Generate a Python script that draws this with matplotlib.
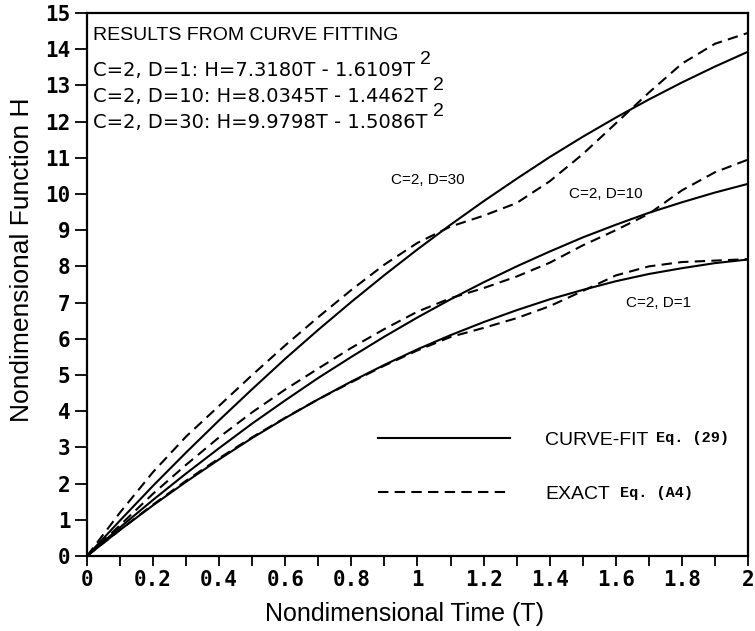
import matplotlib
matplotlib.use("Agg")
import matplotlib.pyplot as plt
from matplotlib.ticker import MultipleLocator, FuncFormatter

# Nondimensional time
t = [0.0, 0.1, 0.2, 0.3, 0.4, 0.5, 0.6, 0.7, 0.8, 0.9, 1.0,
     1.1, 1.2, 1.3, 1.4, 1.5, 1.6, 1.7, 1.8, 1.9, 2.0]

# Curve-fit values (solid)
fit_d1 = [0.0, 0.72, 1.40, 2.05, 2.67, 3.26, 3.81, 4.33, 4.82, 5.28, 5.71,
          6.10, 6.46, 6.79, 7.09, 7.35, 7.59, 7.79, 7.95, 8.09, 8.19]
fit_d10 = [0.0, 0.79, 1.55, 2.28, 2.98, 3.66, 4.30, 4.92, 5.50, 6.06, 6.59,
           7.09, 7.56, 8.00, 8.41, 8.80, 9.15, 9.48, 9.77, 10.04, 10.28]
fit_d30 = [0.0, 0.98, 1.94, 2.86, 3.75, 4.61, 5.45, 6.25, 7.02, 7.76, 8.47,
           9.15, 9.80, 10.42, 11.02, 11.58, 12.11, 12.61, 13.08, 13.52, 13.93]

# Exact values (dashed)
exact_d1 = [0.0, 0.72, 1.42, 2.08, 2.70, 3.28, 3.82, 4.33, 4.80, 5.26, 5.68,
            6.05, 6.30, 6.57, 6.90, 7.32, 7.75, 8.00, 8.12, 8.16, 8.20]
exact_d10 = [0.0, 0.85, 1.72, 2.52, 3.28, 3.97, 4.60, 5.18, 5.75, 6.27, 6.75,
             7.12, 7.40, 7.72, 8.10, 8.58, 9.00, 9.45, 10.10, 10.60, 10.95]
exact_d30 = [0.0, 1.20, 2.32, 3.30, 4.15, 5.00, 5.82, 6.60, 7.35, 8.05, 8.65,
             9.10, 9.40, 9.75, 10.35, 11.10, 11.95, 12.80, 13.60, 14.15, 14.45]

fit_lines = [
    "C=2, D=1: H=7.3180T - 1.6109T",
    "C=2, D=10: H=8.0345T - 1.4462T",
    "C=2, D=30: H=9.9798T - 1.5086T",
]

fig = plt.figure(figsize=(7.55, 6.31), dpi=100)
ax = fig.add_axes([0.1152, 0.1189, 0.8755, 0.8605])

for ys in (fit_d1, fit_d10, fit_d30):
    ax.plot(t, ys, color="black", lw=1.5)
for ys in (exact_d1, exact_d10, exact_d30):
    ax.plot(t, ys, color="black", lw=1.5, dashes=(5, 3))

ax.set_xlim(0, 2)
ax.set_ylim(0, 15)
ax.xaxis.set_major_locator(MultipleLocator(0.2))
ax.xaxis.set_minor_locator(MultipleLocator(0.1))
ax.xaxis.set_major_formatter(FuncFormatter(lambda v, p: f"{v:g}"))
ax.yaxis.set_major_locator(MultipleLocator(1))
ax.tick_params(axis="x", which="both", direction="out", length=7, width=1.3, pad=3)
ax.tick_params(axis="y", which="both", direction="out", length=9, width=1.3, pad=3)
for lbl in ax.get_xticklabels() + ax.get_yticklabels():
    lbl.set_family("DejaVu Sans Mono")
    lbl.set_weight("bold")
    lbl.set_fontsize(15)
for sp in ax.spines.values():
    sp.set_linewidth(1.6)

ax.set_xlabel("Nondimensional Time (T)", fontsize=18, family="Liberation Sans")
ax.set_ylabel("Nondimensional Function H", fontsize=19, family="Liberation Sans")
ax.xaxis.set_label_coords(0.48, -0.085)
ax.yaxis.set_label_coords(-0.08, 0.545)

# Curve-fit results block
ax.text(0.009, 0.958, "RESULTS FROM CURVE FITTING", transform=ax.transAxes,
        fontsize=14, family="Liberation Sans", va="center")
for i, s in enumerate(fit_lines):
    tx = ax.text(0.009, 0.895 - 0.048 * i, s, transform=ax.transAxes,
                 fontsize=14, family="DejaVu Sans", va="center")
    ax.annotate("2", xy=(1.0, 0.6), xycoords=tx, xytext=(4, 0),
                textcoords="offset points", fontsize=14,
                family="Liberation Sans", va="bottom")

# Curve labels
ax.text(1.03, 10.4, "C=2, D=30", fontsize=11, family="Liberation Sans", ha="center", va="center")
ax.text(1.57, 10.0, "C=2, D=10", fontsize=11, family="Liberation Sans", ha="center", va="center")
ax.text(1.73, 7.0, "C=2, D=1", fontsize=11, family="Liberation Sans", ha="center", va="center")

# Legend
h1, = ax.plot([], [], color="black", lw=1.5)
h2, = ax.plot([], [], color="black", lw=1.5, dashes=(5, 3))
ax.legend([h1, h2], ["CURVE-FIT", "EXACT"], loc="upper left",
          bbox_to_anchor=(0.44, 0.23), frameon=False, borderpad=0,
          borderaxespad=0, handlelength=6.8, handletextpad=1.8,
          labelspacing=1.9, prop={"family": "Liberation Sans", "size": 14})
ax.text(1.723, 3.27, "Eq. (29)", fontsize=11, family="Liberation Mono",
        weight="bold", va="center")
ax.text(1.612, 1.75, "Eq. (A4)", fontsize=11, family="Liberation Mono",
        weight="bold", va="center")

fig.savefig("out.png", dpi=100)
